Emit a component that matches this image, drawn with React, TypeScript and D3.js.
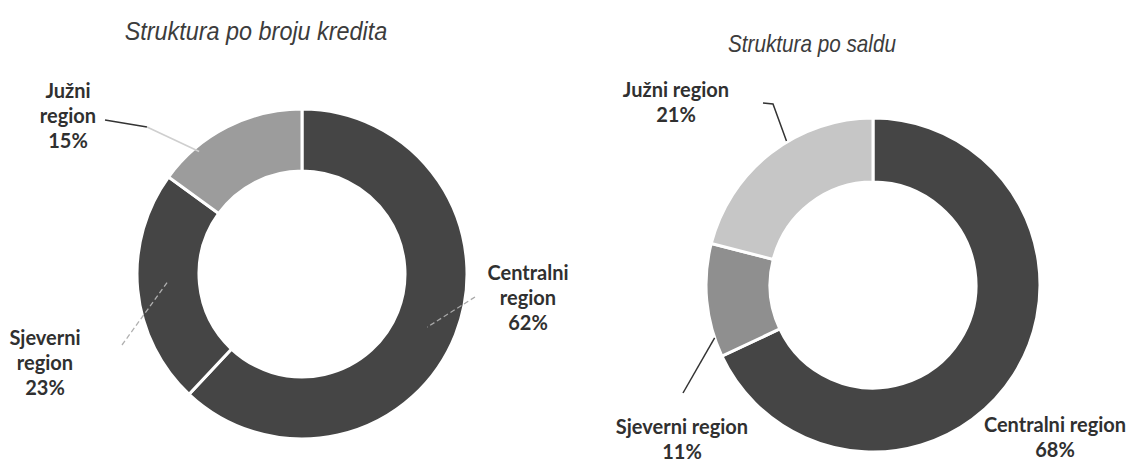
import React from "react";
import * as d3 from "d3";

// Data
const regions = ["Centralni region", "Sjeverni region", "Južni region"];
const shareByCount = [62, 23, 15];
const shareByBalance = [68, 11, 21];

const W = 1136;
const H = 464;

type LabelCfg = { x: number; y: number; lines: string[] };
// from: points on the label side, drawn in `color`; the last leg to the ring is drawn in `tailColor`
type LeaderCfg = {
  from: [number, number][];
  angle: number;
  r: number;
  color: string;
  tailColor?: string;
  dash?: string;
  width: number;
};

type ChartCfg = {
  title: string;
  titleX: number;
  titleY: number;
  titleSize: number;
  cx: number;
  cy: number;
  outer: number;
  inner: number;
  values: number[];
  colors: string[];
  labels: LabelCfg[];
  leaders: LeaderCfg[];
};

const charts: ChartCfg[] = [
  {
    title: "Struktura po broju kredita",
    titleX: 256,
    titleY: 40,
    titleSize: 26,
    cx: 302,
    cy: 274,
    outer: 165,
    inner: 103,
    values: shareByCount,
    colors: ["#454545", "#454545", "#9c9c9c"],
    labels: [
      { x: 528, y: 280, lines: ["Centralni", "region", "62%"] },
      { x: 45, y: 345, lines: ["Sjeverni", "region", "23%"] },
      { x: 68, y: 98, lines: ["Južni", "region", "15%"] },
    ],
    leaders: [
      { from: [[475, 297]], angle: 113, r: 136, color: "#a8a8a8", dash: "5,3", width: 1.3 },
      { from: [[122, 345]], angle: 267, r: 134, color: "#b0b0b0", dash: "5,3", width: 1.3 },
      { from: [[105, 120], [147, 127]], angle: 320, r: 160, color: "#333", tailColor: "#cfcfcf", width: 1.6 },
    ],
  },
  {
    title: "Struktura po saldu",
    titleX: 812,
    titleY: 52,
    titleSize: 23,
    cx: 873,
    cy: 285,
    outer: 167,
    inner: 103,
    values: shareByBalance,
    colors: ["#454545", "#8f8f8f", "#c6c6c6"],
    labels: [
      { x: 1055, y: 432, lines: ["Centralni region", "68%"] },
      { x: 682, y: 434, lines: ["Sjeverni region", "11%"] },
      { x: 676, y: 97, lines: ["Južni region", "21%"] },
    ],
    leaders: [
      { from: [[683, 393]], angle: 251.5, r: 167, color: "#333", width: 1.5 },
      { from: [[763, 103], [773, 104]], angle: 329, r: 168, color: "#333", width: 1.5 },
    ],
  },
];

const Donut = ({ c }: { c: ChartCfg }) => {
  const pie = d3
    .pie<number>()
    .sort(null)
    .value((d) => d);
  const arcs = pie(c.values);
  const arc = d3
    .arc<d3.PieArcDatum<number>>()
    .innerRadius(c.inner)
    .outerRadius(c.outer);

  return (
    <g>
      <text
        transform={`translate(${c.titleX},${c.titleY}) scale(0.9,1)`}
        textAnchor="middle"
        fontFamily="'Liberation Sans', Arial, sans-serif"
        fontStyle="italic"
        fontSize={c.titleSize}
        fill="#3c3c3c"
      >
        {c.title}
      </text>
      <g transform={`translate(${c.cx},${c.cy})`}>
        {arcs.map((a, i) => (
          <path
            key={regions[i]}
            d={arc(a) || ""}
            fill={c.colors[i]}
            stroke="#fff"
            strokeWidth={3}
          />
        ))}
      </g>
      {c.leaders.map((l, i) => {
        const [px, py] = d3.pointRadial((l.angle * Math.PI) / 180, l.r);
        const end: [number, number] = [c.cx + px, c.cy + py];
        const last = l.from[l.from.length - 1];
        if (l.tailColor) {
          return (
            <g key={i}>
              <polyline
                points={l.from.map((p) => p.join(",")).join(" ")}
                fill="none"
                stroke={l.color}
                strokeWidth={l.width}
              />
              <line
                x1={last[0]}
                y1={last[1]}
                x2={end[0]}
                y2={end[1]}
                stroke={l.tailColor}
                strokeWidth={l.width}
              />
            </g>
          );
        }
        const pts = [...l.from, end];
        return (
          <polyline
            key={i}
            points={pts.map((p) => p.join(",")).join(" ")}
            fill="none"
            stroke={l.color}
            strokeWidth={l.width}
            strokeDasharray={l.dash}
          />
        );
      })}
      {c.labels.map((lb, i) => (
        <text
          key={i}
          textAnchor="middle"
          fontFamily="Lato, 'Open Sans', sans-serif"
          fontWeight={700}
          fontSize={20}
          fill="#303030"
        >
          {lb.lines.map((t, j) => (
            <tspan key={j} x={lb.x} y={lb.y + j * 25}>
              {t}
            </tspan>
          ))}
        </text>
      ))}
    </g>
  );
};

export default function App() {
  return (
    <svg
      width={W}
      height={H}
      viewBox={`0 0 ${W} ${H}`}
      style={{ position: "absolute", left: 0, top: 0, background: "#fff" }}
    >
      <rect width={W} height={H} fill="#fff" />
      {charts.map((c) => (
        <Donut key={c.title} c={c} />
      ))}
    </svg>
  );
}
